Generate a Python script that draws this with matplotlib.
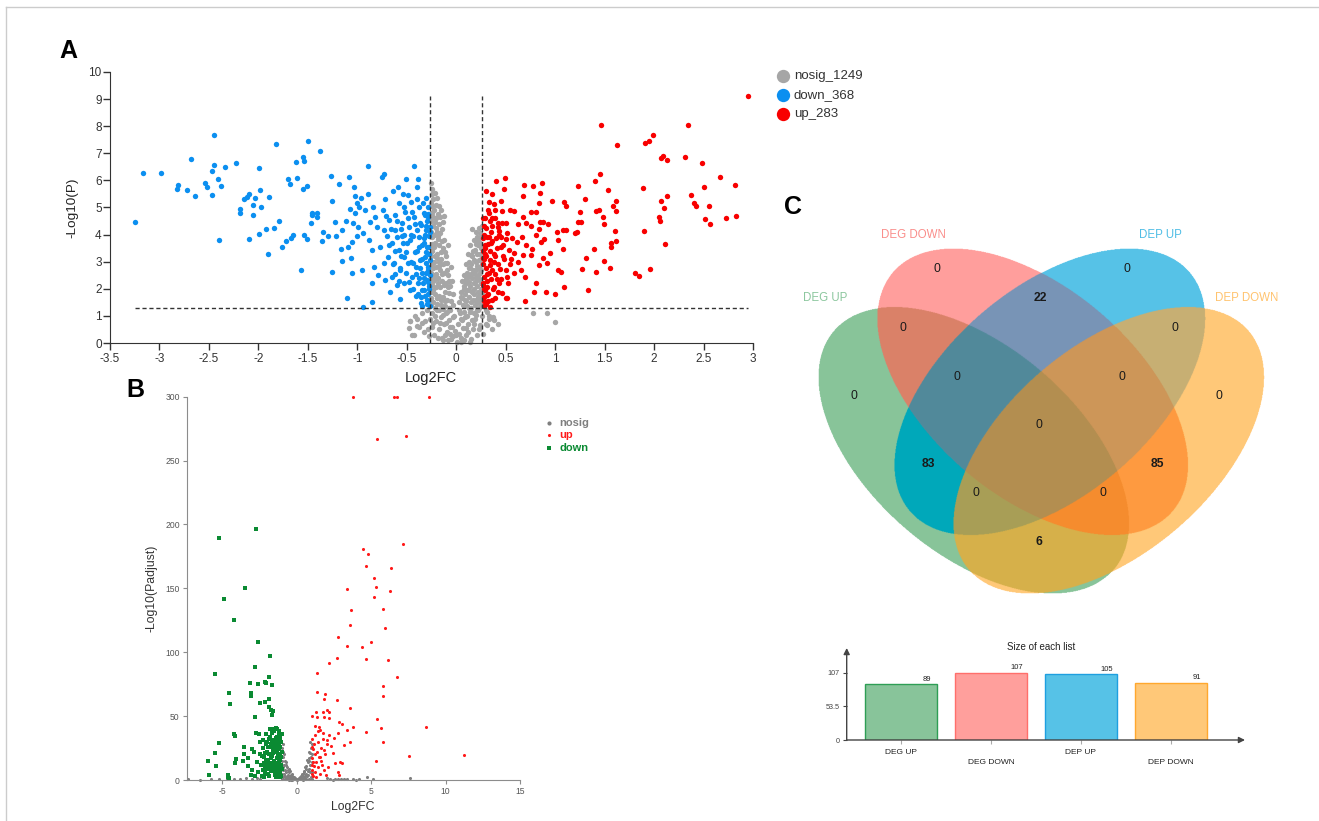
import numpy as np
import matplotlib.pyplot as plt

plt.rcParams['font.family'] = ['Liberation Sans', 'DejaVu Sans']
plt.rcParams['axes.unicode_minus'] = False

W, H = 1319, 821

# ---------------- data ----------------
# panel A : (log2FC, -log10 P)
a_down = [
    (-3.25, 4.45), (-3.17, 6.26), (-2.98, 6.26), (-2.81, 5.82), (-2.82, 5.70), (-2.72, 5.65),
    (-2.68, 6.80), (-2.64, 5.42), (-2.54, 5.89), (-2.52, 5.74), (-2.47, 5.47), (-2.47, 6.33),
    (-2.45, 7.67), (-2.45, 6.55), (-2.41, 6.06), (-2.40, 3.80), (-2.38, 5.80), (-2.34, 6.50),
    (-2.23, 6.65), (-2.19, 4.96), (-2.19, 4.80), (-2.15, 5.31), (-2.12, 5.40), (-2.09, 5.50),
    (-2.09, 3.85), (-2.05, 5.09), (-2.05, 4.71), (-2.03, 5.36), (-1.99, 6.45), (-1.99, 4.04),
    (-1.98, 5.63), (-1.97, 5.02), (-1.92, 4.22), (-1.90, 3.30), (-1.89, 5.40), (-1.84, 4.26),
    (-1.82, 7.35), (-1.79, 4.51), (-1.76, 3.56), (-1.72, 3.78), (-1.70, 6.07), (-1.68, 5.87),
    (-1.67, 3.89), (-1.65, 3.98), (-1.62, 6.69), (-1.61, 6.10), (-1.57, 2.69), (-1.55, 6.86),
    (-1.54, 6.72), (-1.54, 3.98), (-1.55, 5.68), (-1.51, 5.78), (-1.51, 3.83), (-1.50, 7.45),
    (-1.47, 4.42), (-1.46, 4.81), (-1.46, 4.71), (-1.41, 4.79), (-1.41, 4.65), (-1.38, 7.07),
    (-1.35, 4.11), (-1.36, 3.77), (-1.30, 3.95), (-1.27, 6.17), (-1.26, 5.24), (-1.26, 2.63),
    (-1.23, 4.48), (-1.22, 3.95), (-1.19, 5.85), (-1.16, 3.48), (-1.15, 4.17), (-1.15, 3.02),
    (-1.11, 4.52), (-1.10, 1.66), (-1.08, 6.12), (-1.09, 3.55), (-1.07, 4.96), (-1.06, 3.12),
    (-1.05, 3.71), (-1.05, 2.60), (-1.04, 4.44), (-1.03, 5.77), (-1.02, 5.44), (-1.02, 4.79),
    (-1.00, 5.15), (-1.00, 3.93), (-0.99, 4.29), (-0.98, 5.03), (-0.96, 5.34), (-0.95, 2.70),
    (-0.94, 1.31), (-0.94, 4.05), (-0.92, 4.91), (-0.89, 6.54), (-0.89, 5.50), (-0.88, 3.80),
    (-0.87, 4.48), (-0.85, 3.44), (-0.85, 1.53), (-0.85, 2.21), (-0.84, 5.03), (-0.83, 2.82),
    (-0.82, 4.66), (-0.80, 4.29), (-0.79, 2.52), (-0.77, 3.56), (-0.75, 6.13), (-0.74, 4.91),
    (-0.735, 6.23), (-0.735, 4.17), (-0.73, 2.94), (-0.72, 5.30), (-0.72, 2.33), (-0.70, 3.93),
    (-0.69, 3.19), (-0.68, 4.54), (-0.67, 1.90), (-0.65, 3.68), (-0.65, 2.45), (-0.64, 5.61),
    (-0.63, 2.94), (-0.62, 4.72), (-0.62, 4.17), (-0.60, 2.15), (-0.59, 5.74), (-0.58, 5.15),
    (-0.58, 3.44), (-0.57, 1.62), (-0.57, 2.70), (-0.55, 4.42), (-0.55, 3.93), (-0.54, 5.50),
    (-0.53, 3.19), (-0.53, 2.21), (-0.52, 4.85), (-0.51, 6.07), (-0.50, 3.68), (-0.49, 2.94),
    (-0.48, 4.29), (-0.47, 1.96), (-0.46, 5.21), (-0.45, 2.45), (-0.44, 3.93), (-0.43, 6.53),
    (-0.43, 4.66), (-0.42, 3.37), (-0.41, 1.72), (-0.41, 2.82), (-0.40, 5.77), (-0.40, 4.17),
    (-0.39, 6.06), (-0.39, 2.21), (-0.38, 5.03), (-0.38, 3.56), (-0.37, 3.07), (-0.37, 4.42),
    (-0.36, 1.47), (-0.35, 2.58), (-0.34, 5.15), (-0.33, 3.87), (-0.33, 1.96), (-0.32, 4.72),
    (-0.32, 3.19), (-0.31, 5.34), (-0.31, 4.17), (-0.30, 2.33), (-0.30, 3.56), (-0.30, 1.60),
    (-0.29, 2.82), (-0.29, 4.66), (-0.28, 3.93), (-0.28, 2.09), (-0.27, 3.07), (-0.27, 4.29),
    (-0.27, 1.35), (-0.30, 4.50), (-0.32, 4.00), (-0.35, 3.60), (-0.28, 3.30), (-0.31, 2.60),
    (-0.34, 2.20), (-0.29, 1.80), (-0.36, 1.70), (-0.38, 2.40), (-0.40, 3.40), (-0.42, 4.40),
    (-0.44, 2.00), (-0.46, 3.00), (-0.47, 3.80), (-0.49, 4.60), (-0.51, 2.60), (-0.53, 4.00),
    (-0.56, 3.20), (-0.58, 2.30), (-0.60, 4.50), (-0.62, 3.40), (-0.64, 2.90), (-0.66, 4.20),
    (-0.68, 3.60), (-0.71, 4.70), (-0.29, 5.00), (-0.33, 4.80), (-0.27, 2.50), (-0.30, 1.45),
    (-0.35, 1.35), (-0.39, 1.80), (-0.27, 4.10), (-0.28, 2.00), (-0.285, 4.75), (-0.305, 4.30),
    (-0.325, 3.70), (-0.285, 3.55), (-0.345, 3.10), (-0.305, 2.95), (-0.285, 2.70),
    (-0.365, 2.75), (-0.325, 2.40), (-0.285, 2.25), (-0.345, 1.95), (-0.315, 1.75),
    (-0.375, 3.90), (-0.405, 2.55), (-0.435, 2.95), (-0.455, 4.00), (-0.475, 2.25),
    (-0.505, 3.35), (-0.535, 3.70), (-0.565, 2.75), (-0.595, 3.90), (-0.615, 2.55),
    (-0.445, 4.85), (-0.395, 5.30), (-0.355, 4.35), (-0.485, 5.45), (-0.525, 5.00),
    (-0.555, 4.20), (-0.305, 3.35), (-0.285, 1.55),
]
a_up = [
    (2.946, 9.11), (1.459, 8.06), (2.346, 8.06), (1.989, 7.69), (1.948, 7.45), (1.908, 7.39),
    (1.628, 7.31), (2.073, 6.81), (2.093, 6.90), (2.133, 6.74), (2.309, 6.86), (2.481, 6.65),
    (2.669, 6.13), (2.821, 5.83), (2.508, 5.76), (2.376, 5.47), (2.130, 5.42), (2.073, 5.25),
    (2.097, 4.97), (2.406, 5.15), (2.427, 5.06), (2.555, 5.07), (2.511, 4.59), (2.568, 4.39),
    (2.723, 4.61), (2.824, 4.69), (2.049, 4.66), (2.063, 4.51), (1.884, 5.73), (1.901, 4.12),
    (2.113, 3.65), (1.955, 2.74), (1.850, 2.48), (1.810, 2.57), (1.449, 6.25), (1.405, 5.98),
    (1.530, 5.65), (1.617, 5.25), (1.620, 4.87), (1.580, 5.06), (1.416, 4.87), (1.439, 4.91),
    (1.483, 4.66), (1.493, 4.38), (1.604, 4.15), (1.560, 3.68), (1.567, 3.55), (1.611, 3.75),
    (1.496, 3.04), (1.554, 2.78), (1.412, 2.61), (1.389, 3.46), (1.301, 5.31), (1.234, 5.79),
    (1.247, 4.82), (1.234, 4.46), (1.257, 4.46), (1.200, 4.05), (1.223, 4.08), (1.308, 3.14),
    (1.274, 2.72), (1.331, 1.94), (1.092, 5.19), (1.105, 5.04), (1.078, 4.17), (1.105, 4.17),
    (1.014, 4.11), (1.024, 3.80), (1.078, 3.46), (1.031, 2.69), (1.058, 2.63), (1.092, 2.05),
    (0.998, 1.81), (0.903, 1.89), (0.967, 5.24), (0.863, 5.89), (0.839, 5.15), (0.772, 5.78),
    (0.688, 5.82), (0.671, 5.44), (0.843, 5.52), (0.809, 4.82), (0.755, 4.85), (0.674, 4.65),
    (0.620, 4.38), (0.701, 4.42), (0.843, 4.46), (0.880, 4.45), (0.923, 4.38), (0.758, 4.32),
    (0.836, 4.19), (0.806, 4.00), (0.890, 3.85), (0.860, 3.71), (0.664, 3.92), (0.708, 3.62),
    (0.765, 3.46), (0.671, 3.23), (0.752, 3.23), (0.880, 3.15), (0.917, 2.94), (0.951, 3.31),
    (0.833, 2.87), (0.657, 2.69), (0.809, 2.20), (0.698, 2.42), (0.782, 1.89), (0.694, 1.56),
    (0.512, 1.65), (0.489, 6.10), (0.401, 5.98), (0.485, 5.67), (0.297, 5.61), (0.448, 5.25),
    (0.384, 5.13), (0.320, 4.90), (0.334, 4.81), (0.543, 4.90), (0.580, 4.87), (0.465, 4.88),
    (0.357, 4.60), (0.388, 4.60), (0.425, 4.44), (0.462, 4.42), (0.506, 4.44), (0.418, 4.29),
    (0.303, 4.26), (0.432, 4.12), (0.512, 4.05), (0.566, 3.86), (0.613, 3.73), (0.404, 3.86),
    (0.327, 3.92), (0.270, 3.86), (0.350, 3.68), (0.452, 3.55), (0.529, 3.43), (0.583, 3.33),
    (0.293, 3.49), (0.384, 3.28), (0.485, 3.09), (0.546, 2.90), (0.283, 3.09), (0.344, 2.88),
    (0.445, 2.74), (0.512, 2.42), (0.411, 2.37), (0.310, 2.53), (0.270, 2.20), (0.377, 2.08),
    (0.462, 1.83), (0.310, 1.77), (0.394, 1.67), (0.276, 1.56), (0.337, 1.34), (0.499, 1.65),
    (0.28, 4.30), (0.29, 3.60), (0.30, 3.20), (0.27, 2.90), (0.31, 2.30), (0.28, 2.00),
    (0.32, 1.80), (0.30, 1.45), (0.34, 3.40), (0.36, 2.70), (0.35, 4.10), (0.38, 3.00),
    (0.37, 2.00), (0.41, 3.50), (0.43, 2.20), (0.39, 4.90), (0.33, 2.60), (0.27, 3.40),
    (0.29, 4.60), (0.36, 1.60), (0.42, 1.90), (0.47, 3.20), (0.50, 2.70), (0.45, 3.90),
    (0.55, 3.10), (0.58, 2.60), (0.62, 3.00), (0.28, 1.70), (0.31, 3.90), (0.34, 4.50),
    (0.275, 4.60), (0.285, 4.00), (0.295, 3.30), (0.275, 3.15), (0.305, 2.75), (0.285, 2.45),
    (0.275, 2.15), (0.315, 2.05), (0.325, 3.65), (0.345, 3.05), (0.355, 2.35), (0.365, 3.75),
    (0.395, 3.20), (0.395, 2.55), (0.425, 2.90), (0.435, 4.00), (0.455, 2.35), (0.475, 3.60),
    (0.505, 3.85), (0.525, 2.20), (0.295, 1.95), (0.325, 1.55), (0.285, 1.35), (0.365, 4.30),
    (0.330, 5.20), (0.360, 5.50),
]
a_nosig = [
    (-0.26, 5.90), (-0.23, 5.30), (-0.20, 5.10), (-0.25, 5.50), (-0.17, 5.05), (-0.22, 4.90),
    (-0.26, 5.15), (-0.25, 4.80), (-0.20, 4.60), (-0.17, 4.40), (-0.23, 4.30), (-0.14, 4.20),
    (-0.26, 4.50), (-0.19, 4.10), (-0.22, 4.00), (-0.12, 4.70), (-0.15, 4.90), (-0.25, 3.90),
    (-0.21, 3.70), (-0.17, 3.60), (-0.13, 3.50), (-0.24, 3.40), (-0.19, 3.30), (-0.10, 3.20),
    (-0.15, 3.10), (-0.22, 3.00), (-0.26, 3.20), (-0.12, 3.80), (-0.18, 3.85), (-0.08, 3.60),
    (-0.25, 2.90), (-0.20, 2.80), (-0.16, 2.70), (-0.12, 2.60), (-0.08, 2.50), (-0.23, 2.50),
    (-0.18, 2.40), (-0.14, 2.30), (-0.10, 2.20), (-0.06, 2.10), (-0.24, 2.15), (-0.20, 2.05),
    (-0.26, 2.60), (-0.05, 2.80), (-0.25, 1.90), (-0.21, 1.80), (-0.17, 1.75), (-0.13, 1.70),
    (-0.09, 1.60), (-0.05, 1.55), (-0.23, 1.50), (-0.19, 1.45), (-0.15, 1.40), (-0.11, 1.35),
    (-0.07, 1.30), (-0.03, 1.40), (-0.26, 1.40), (-0.21, 4.45), (-0.18, 4.75), (-0.24, 3.65),
    (-0.15, 3.35), (-0.11, 2.95), (-0.21, 3.20), (-0.07, 2.30), (-0.16, 2.05), (-0.11, 1.90),
    (-0.20, 2.55), (-0.13, 2.90), (-0.09, 2.70), (-0.17, 3.00), (-0.23, 2.30), (-0.03, 1.80),
    (-0.06, 1.20), (-0.48, 0.55), (-0.47, 0.80), (-0.45, 0.30), (-0.40, 0.90), (-0.38, 0.60),
    (-0.35, 1.10), (-0.33, 0.40), (-0.32, 0.80), (-0.30, 1.20), (-0.29, 0.50), (-0.27, 0.90),
    (-0.25, 0.60), (-0.24, 1.10), (-0.22, 0.30), (-0.20, 0.80), (-0.19, 1.20), (-0.17, 0.50),
    (-0.15, 0.95), (-0.14, 0.20), (-0.12, 0.70), (-0.10, 1.10), (-0.09, 0.40), (-0.07, 0.85),
    (-0.05, 0.15), (-0.04, 0.60), (-0.02, 1.00), (0.00, 0.30), (0.02, 0.70), (0.01, 0.05),
    (-0.01, 0.45), (0.04, 1.10), (0.05, 0.20), (0.07, 0.55), (0.09, 0.95), (0.10, 0.30),
    (0.12, 0.70), (0.14, 1.15), (0.15, 0.15), (0.17, 0.50), (0.19, 0.90), (0.21, 0.30),
    (0.22, 1.20), (0.24, 0.65), (0.26, 1.00), (0.27, 0.35), (0.30, 0.70), (0.33, 1.00),
    (0.36, 0.50), (0.38, 0.85), (0.30, 1.20), (0.42, 0.70), (0.78, 1.09), (0.92, 1.09),
    (1.00, 0.77), (0.31, 1.14), (0.33, 0.87), (0.37, 0.95), (0.31, 0.66), (-0.465, 0.80),
    (-0.425, 0.28), (-0.40, 0.64), (-0.08, 0.10), (0.08, 0.10), (-0.03, 0.25), (0.03, 0.35),
    (-0.11, 0.30), (0.12, 0.40), (-0.06, 0.60), (0.06, 0.85), (-0.16, 0.75), (0.18, 0.70),
    (-0.13, 1.05), (0.11, 1.00), (0.20, 1.05), (-0.21, 1.00), (0.16, 4.20), (0.20, 4.10),
    (0.23, 4.25), (0.25, 3.90), (0.18, 3.80), (0.22, 3.60), (0.14, 3.60), (0.26, 4.30),
    (0.19, 3.45), (0.24, 3.30), (0.12, 3.30), (0.16, 3.20), (0.20, 3.00), (0.23, 2.80),
    (0.26, 2.90), (0.10, 2.90), (0.14, 2.75), (0.18, 2.60), (0.22, 2.50), (0.08, 2.50),
    (0.25, 3.10), (0.12, 2.45), (0.06, 2.30), (0.10, 2.20), (0.14, 2.10), (0.18, 2.00),
    (0.22, 1.90), (0.25, 2.20), (0.05, 1.90), (0.09, 1.80), (0.13, 1.70), (0.17, 1.60),
    (0.21, 1.50), (0.25, 1.60), (0.03, 1.50), (0.07, 1.40), (0.11, 1.35), (0.15, 1.30),
    (0.19, 1.40), (0.23, 1.30), (0.26, 1.80), (0.21, 3.90), (0.17, 3.40), (0.13, 3.00),
    (0.20, 2.70), (0.24, 2.60), (0.16, 2.40), (0.11, 2.60), (0.08, 2.10), (0.20, 2.30),
    (0.13, 1.95), (0.18, 1.80), (0.22, 1.70), (0.06, 1.65), (0.10, 1.55), (0.24, 1.45),
    (0.03, 1.20), (0.24, 3.70), (0.15, 2.90), (-0.245, 5.70), (-0.215, 5.55), (-0.19, 5.35),
    (-0.24, 5.05), (-0.16, 4.65), (-0.235, 4.65), (-0.205, 4.25), (-0.16, 4.05), (-0.13, 4.45),
    (-0.255, 4.10), (-0.185, 3.95), (-0.225, 3.55), (-0.145, 3.75), (-0.115, 3.35),
    (-0.255, 3.55), (-0.195, 3.15), (-0.235, 2.75), (-0.175, 2.85), (-0.145, 2.55),
    (-0.095, 2.95), (-0.255, 2.35), (-0.215, 2.35), (-0.125, 2.15), (-0.085, 2.05),
    (-0.185, 2.20), (-0.235, 1.95), (-0.195, 1.65), (-0.155, 1.60), (-0.115, 1.55),
    (-0.075, 1.85), (-0.045, 2.30), (-0.255, 1.65), (-0.215, 1.30), (-0.175, 1.20),
    (-0.135, 1.25), (-0.095, 1.15), (-0.03, 0.95), (-0.23, 0.75), (-0.28, 0.25), (-0.35, 0.75),
    (-0.42, 1.00), (-0.18, 0.20), (-0.10, 0.75), (-0.06, 0.35), (0.245, 4.05), (0.225, 3.80),
    (0.195, 3.65), (0.255, 3.50), (0.215, 3.30), (0.175, 3.05), (0.145, 3.25), (0.235, 3.05),
    (0.205, 2.85), (0.165, 2.70), (0.125, 2.75), (0.255, 2.70), (0.195, 2.45), (0.145, 2.55),
    (0.095, 2.35), (0.235, 2.35), (0.175, 2.20), (0.125, 2.25), (0.075, 2.00), (0.255, 2.00),
    (0.205, 2.10), (0.155, 1.90), (0.105, 1.95), (0.045, 1.70), (0.235, 1.75), (0.195, 1.60),
    (0.145, 1.50), (0.085, 1.60), (0.255, 1.35), (0.215, 1.20), (0.175, 1.10), (0.125, 1.30),
    (0.075, 1.15), (0.045, 0.90), (0.16, 0.85), (0.23, 0.50), (0.10, 0.55), (0.14, 0.05),
    (-0.13, 0.10), (0.05, 0.05),
]
a_legend = ["nosig_1249", "down_368", "up_283"]
fc_cut, p_cut = 0.263, 1.3

# panel B : (log2FC, -log10 Padjust)
b_up = [
    (3.81, 300), (6.50, 300), (6.72, 300), (8.89, 300), (5.40, 266.6), (7.37, 269), (4.46, 180.5),
    (4.77, 176.6), (4.68, 167.2), (7.12, 184.5), (6.32, 165.7), (5.20, 157.8), (5.33, 151),
    (6.23, 147.7), (5.20, 143.2), (3.34, 149.2), (3.63, 133), (5.80, 134), (3.58, 121.3),
    (5.91, 118.7), (2.76, 111.7), (3.40, 104.6), (4.41, 103.8), (4.97, 108), (2.71, 95.5),
    (2.13, 91.3), (4.68, 94.4), (6.12, 93.7), (1.39, 83.7), (6.72, 80.4), (5.76, 73.8),
    (5.82, 65.7), (1.39, 68.6), (1.90, 67), (1.86, 63.7), (2.71, 62.9), (3.56, 56.1), (2.02, 54.8),
    (2.17, 53.2), (1.32, 53), (1.79, 53.5), (1.05, 50.1), (2.13, 48.8), (1.34, 49), (1.84, 49.6),
    (5.38, 47.7), (2.84, 45.7), (3.07, 43.6), (3.81, 41.7), (3.40, 39.4), (8.69, 41.7),
    (5.67, 41), (4.66, 37.3), (2.78, 37), (3.58, 30), (5.80, 30), (3.18, 27.7), (2.93, 14.3),
    (3.02, 13.6), (5.29, 15.1), (7.57, 18.8), (11.27, 19.8), (2.76, 6), (2.82, 3.9), (2.31, 26.6),
    (2.53, 32.6), (2.17, 35.2), (1.57, 39.1), (1.46, 41.7), (1.79, 36.5), (2.02, 31.3),
    (2.42, 20.9), (1.84, 23.5), (1.57, 18.3), (2.58, 13), (1.05, 32), (1.15, 28), (1.10, 24),
    (1.20, 20), (1.05, 17), (1.30, 14), (1.15, 11), (1.00, 8), (1.25, 6), (1.10, 3), (1.40, 30),
    (1.35, 22), (1.50, 18), (1.45, 10), (1.60, 15), (1.30, 2), (1.55, 5), (1.70, 12), (1.65, 25),
    (1.80, 8), (1.20, 35), (1.00, 26), (1.90, 20), (1.95, 4), (1.10, 14), (1.05, 5), (1.40, 38),
    (1.75, 32), (1.25, 42), (2.10, 10), (2.00, 28), (1.00, 12),
]
b_down = [
    (-2.71, 196.2), (-5.20, 189.1), (-4.91, 141.9), (-3.47, 150), (-4.21, 125.2), (-2.64, 108),
    (-1.79, 97.3), (-5.53, 83.2), (-2.84, 88.4), (-1.90, 80.4), (-3.14, 76.2), (-2.64, 75.1),
    (-2.17, 77), (-2.05, 75.7), (-1.68, 74.4), (-4.57, 67.8), (-3.05, 68.4), (-3.11, 65.7),
    (-1.90, 63.1), (-4.46, 59.2), (-2.46, 60.5), (-2.17, 61), (-1.86, 56.9), (-1.75, 54.8),
    (-1.61, 54), (-2.84, 49.6), (-1.66, 51.1), (-4.19, 36), (-4.14, 34.7), (-2.73, 37),
    (-2.51, 36), (-5.26, 29.2), (-3.54, 25.8), (-2.98, 24), (-5.49, 20.9), (-3.52, 20.3),
    (-4.12, 16.4), (-3.61, 15.1), (-4.14, 13), (-3.25, 17.5), (-5.44, 11), (-5.98, 14.9),
    (-5.91, 3.9), (-4.64, 3.9), (-4.61, 2.1), (-4.57, 1.6), (-2.40, 12), (-2.30, 8), (-2.20, 18),
    (-2.10, 28), (-2.05, 5), (-2.00, 22), (-1.95, 14), (-1.90, 32), (-1.85, 3), (-1.80, 26),
    (-1.75, 10), (-1.70, 37), (-1.65, 19), (-1.60, 7), (-1.55, 30), (-1.50, 15), (-1.45, 24),
    (-1.40, 2), (-1.35, 34), (-1.30, 11), (-1.25, 20), (-1.20, 27), (-1.15, 6), (-1.10, 16),
    (-1.05, 30), (-1.00, 9), (-1.02, 22), (-1.08, 3), (-1.18, 35), (-1.28, 13), (-1.38, 25),
    (-1.48, 4), (-1.58, 21), (-1.68, 13), (-1.78, 40), (-1.88, 20), (-1.98, 9), (-2.08, 36),
    (-2.18, 2), (-2.28, 25), (-2.60, 6), (-2.70, 14), (-2.80, 3), (-2.90, 22), (-3.00, 8),
    (-3.10, 4), (-3.30, 11), (-2.50, 30), (-2.45, 20), (-2.35, 3), (-1.62, 40), (-1.52, 38),
    (-1.42, 33), (-1.32, 28), (-1.22, 24), (-1.12, 19), (-1.06, 12), (-1.14, 26), (-1.24, 9),
    (-1.34, 17), (-1.44, 12), (-1.54, 27), (-1.64, 31), (-1.74, 17), (-1.84, 11), (-1.94, 26),
    (-2.04, 16), (-2.14, 11), (-2.24, 31), (-1.01, 36), (-1.11, 33), (-1.21, 38), (-1.31, 40),
    (-1.41, 41), (-1.72, 7), (-1.92, 5), (-2.12, 21), (-1.36, 5), (-1.16, 2), (-1.26, 30),
    (-1.03, 18), (-1.13, 8), (-1.23, 14), (-1.33, 22), (-1.43, 7), (-1.53, 10), (-1.63, 24),
    (-1.73, 28), (-1.83, 34), (-1.93, 16), (-2.03, 30), (-2.13, 6), (-2.23, 13), (-2.33, 19),
]
b_nosig = [
    (-7.3, 0.5), (-6.5, 0.3), (-5.8, 0.4), (-5.2, 0.6), (-4.7, 0.5), (-4.2, 1.0), (-3.8, 0.5),
    (-3.4, 1.3), (-3.0, 0.6), (-2.7, 1.5), (-2.5, 0.4), (2.2, 0.6), (2.6, 0.8), (3.0, 0.5),
    (3.4, 0.4), (3.8, 0.6), (4.2, 0.5), (4.7, 2.0), (5.1, 0.4), (7.6, 1.5), (2.0, 1.2), (2.4, 0.3),
    (2.8, 1.0), (3.2, 0.9), (4.0, 0.3), (-1.0, 25), (-0.95, 22), (-0.9, 18), (-0.85, 20),
    (-0.8, 15), (-0.75, 12), (-0.7, 14), (-0.65, 10), (-0.6, 8), (-0.55, 9), (-0.5, 6), (-0.45, 7),
    (-0.4, 4), (-0.35, 5), (-0.3, 3), (-0.25, 2), (-0.2, 2.5), (-0.15, 1), (-0.1, 1.5),
    (-0.05, 0.5), (0.0, 0.3), (-0.98, 15), (-0.92, 10), (-0.88, 5), (-0.82, 8), (-0.78, 3),
    (-0.72, 6), (-0.68, 2), (-0.62, 4), (-0.58, 1), (-0.52, 3), (-0.48, 1.5), (-0.42, 2),
    (-0.38, 0.8), (-0.32, 1.2), (-0.28, 0.6), (-1.0, 12), (-1.0, 5), (-0.95, 28), (-0.9, 2),
    (-0.6, 0.5), (-0.8, 1), (-1.0, 1), (-0.3, 0.2), (-0.2, 0.5), (-0.4, 0.3), (-0.5, 0.2),
    (-0.7, 0.6), (-0.85, 12), (-0.96, 8), (1.0, 28), (0.95, 25), (0.9, 21), (0.85, 22), (0.8, 17),
    (0.75, 14), (0.7, 16), (0.65, 11), (0.6, 9), (0.55, 10), (0.5, 7), (0.45, 6), (0.4, 4.5),
    (0.35, 5), (0.3, 3), (0.25, 2.5), (0.2, 2), (0.15, 1.2), (0.1, 1), (0.05, 0.5), (0.98, 18),
    (0.92, 12), (0.88, 6), (0.82, 9), (0.78, 4), (0.72, 7), (0.68, 3), (0.62, 5), (0.58, 1.5),
    (0.52, 3), (0.48, 1), (0.42, 2), (0.38, 1), (0.32, 1.2), (0.28, 0.6), (1.0, 14), (1.0, 6),
    (0.95, 2), (0.8, 1), (1.0, 1), (0.6, 0.4), (0.4, 0.3), (0.9, 30), (1.0, 20), (0.85, 15),
]
b_legend = ["nosig", "up", "down"]

# panel C : four lists, region counts keyed by membership (DEG UP, DEG DOWN, DEP UP, DEP DOWN)
venn_names = ["DEG UP", "DEG DOWN", "DEP UP", "DEP DOWN"]
venn_counts = {
    "1000": 0, "0100": 0, "0010": 0, "0001": 0,
    "1100": 0, "0110": 22, "0011": 0, "1010": 83, "0101": 85, "1001": 6,
    "1110": 0, "0111": 0, "1011": 0, "1101": 0, "1111": 0,
}
list_sizes = [sum(n for k, n in venn_counts.items() if k[i] == "1") for i in range(4)]

# ---------------- styles ----------------
c_grey, c_blue, c_red = "#a6a6a6", "#0b8ff0", "#f80000"
venn_fill = ["#88c49a", "#ff9f9c", "#56c2e7", "#ffc878"]
venn_text = ["#8cc79e", "#fa8e8b", "#4fbde5", "#ffc36e"]
bar_edge = ["#2e9e55", "#ff6f6b", "#1e9fe0", "#ffa82e"]
region_col = {
    "1000": "#88c49a", "0100": "#ff9f9c", "0010": "#56c2e7", "0001": "#ffc878",
    "1100": "#da8169", "0110": "#7894b6", "0011": "#c7af74", "1010": "#00a8ba",
    "0101": "#fe9b40", "1001": "#d6b04a", "1110": "#528a9b", "0111": "#cd9658",
    "1011": "#a89f56", "1101": "#f58c2e", "1111": "#b48e50",
}
# ellipses in figure pixels: cx, cy, semi-major, semi-minor, angle (y down)
ellipses = [(973.7, 450.3, 184, 104, 40.5), (1032.7, 391.7, 184, 104, 40.5),
            (1049.9, 391.7, 184, 104, -40.5), (1108.9, 450.3, 184, 104, -40.5)]
region_xy = {
    "1000": (854.3, 396), "0100": (936.7, 269.3), "0010": (1126.7, 269.3), "0001": (1219.3, 396),
    "1100": (902.7, 327.7), "0110": (1040.7, 298.3), "0011": (1175, 327.7),
    "1010": (928.7, 464), "0101": (1157.3, 464), "1001": (1039.3, 541.7),
    "1110": (956.7, 376.7), "0111": (1121.7, 376.7), "1011": (976, 493.3),
    "1101": (1102.7, 493.3), "1111": (1039.3, 425),
}
name_xy = [(825, 298), (913.3, 235), (1160, 235), (1246.7, 298.3)]


def px_axes(fig, x0, y0, x1, y1):
    return fig.add_axes([x0 / W, 1 - y1 / H, (x1 - x0) / W, (y1 - y0) / H])


fig = plt.figure(figsize=(W / 100, H / 100), dpi=100)

# ---------------- A ----------------
ax = px_axes(fig, 110, 72, 753, 343)
for pts, col in ((a_nosig, c_grey), (a_down, c_blue), (a_up, c_red)):
    p = np.array(pts)
    ax.scatter(p[:, 0], p[:, 1], s=15, c=col, lw=0, clip_on=False, zorder=2)
dash = dict(color="#333333", lw=1, ls=(0, (3, 2)), zorder=3)
ax.plot([-fc_cut, -fc_cut], [0, 9.1], **dash)
ax.plot([fc_cut, fc_cut], [0, 9.1], **dash)
ax.plot([-3.25, 2.95], [p_cut, p_cut], **dash)
ax.set_xlim(-3.5, 3)
ax.set_ylim(0, 10)
xt = np.arange(-3.5, 3.01, 0.5)
ax.set_xticks(xt)
ax.set_xticklabels([f"{v:g}" for v in xt])
ax.set_yticks(range(0, 11))
for s in ("top", "right"):
    ax.spines[s].set_visible(False)
for s in ("left", "bottom"):
    ax.spines[s].set_color("#333333")
ax.tick_params(direction="out", length=5, width=1, colors="#333333", labelsize=8.5, pad=2)
ax.tick_params(axis="y", pad=1)
ax.patch.set_visible(False)

# ---------------- B ----------------
bx = px_axes(fig, 186.7, 396.7, 520, 780)
p = np.array(b_nosig)
bx.scatter(p[:, 0], p[:, 1], s=5, c="#7f7f7f", lw=0, clip_on=False, zorder=2)
p = np.array(b_down)
bx.scatter(p[:, 0], p[:, 1], s=9, c="#0a8a32", marker="s", lw=0, clip_on=False, zorder=3)
p = np.array(b_up)
bx.scatter(p[:, 0], p[:, 1], s=5, c="#ff1a1a", lw=0, clip_on=False, zorder=3)
bx.set_xlim(-7.4, 15)
bx.set_ylim(0, 300)
bx.set_xticks([-5, 0, 5, 10, 15])
bx.set_yticks(range(0, 301, 50))
for s in ("top", "right"):
    bx.spines[s].set_visible(False)
for s in ("left", "bottom"):
    bx.spines[s].set_color("#8c8c8c")
bx.tick_params(direction="out", length=3, width=0.8, colors="#8c8c8c", labelcolor="#555555",
               labelsize=6.2, pad=2)
bx.patch.set_visible(False)

# ---------------- bar (size of each list) ----------------
cx = px_axes(fig, 846.7, 648, 1245, 740)
xs = np.arange(len(list_sizes))
cx.bar(xs, list_sizes, width=0.79, color=venn_fill, edgecolor=bar_edge, lw=1, zorder=2)
for i, v in enumerate(list_sizes):
    cx.annotate(str(v), (i + 0.29, v), xytext=(0, 1), textcoords="offset points",
                ha="center", va="bottom", fontsize=5.5, color="#222222")
for i, name in enumerate(venn_names):
    cx.text(i, -0.138 if i % 2 == 0 else -0.242, name, transform=cx.get_xaxis_transform(),
            ha="center", va="center", fontsize=6, color="#222222")
top = max(list_sizes)
cx.set_xlim(-0.603, 3.822)
cx.set_ylim(0, 146.3)
cx.set_yticks([0, top / 2, top])
cx.set_yticklabels(["0", f"{top / 2:g}", f"{top}"])
cx.set_xticks(xs)
cx.set_xticklabels([])
for s in cx.spines.values():
    s.set_visible(False)
cx.tick_params(axis="y", length=3, width=0.8, colors="#444444", labelsize=5.2, pad=2)
cx.tick_params(axis="x", length=3, width=0.8, colors="#aaaaaa")
arrow = dict(arrowstyle="-|>", color="#444444", lw=1, mutation_scale=9, shrinkA=0, shrinkB=0)
cx.annotate("", xy=(1, 0), xytext=(0, 0), xycoords="axes fraction", arrowprops=arrow)
cx.annotate("", xy=(0, 1), xytext=(0, 0), xycoords="axes fraction", arrowprops=arrow)
cx.patch.set_visible(False)

# ---------------- overlay in figure pixels ----------------
ov = fig.add_axes([0, 0, 1, 1])
ov.axis("off")

# venn regions, rendered by membership
x0, x1, y0, y1 = 800, 1290, 190, 620
gx = np.linspace(x0, x1, (x1 - x0) * 2, endpoint=False) + 0.25
gy = np.linspace(y0, y1, (y1 - y0) * 2, endpoint=False) + 0.25
XX, YY = np.meshgrid(gx, gy)
inside = []
for ecx, ecy, ea, eb, ang in ellipses:
    t = np.deg2rad(ang)
    dx, dy = XX - ecx, YY - ecy
    u = dx * np.cos(t) + dy * np.sin(t)
    v = -dx * np.sin(t) + dy * np.cos(t)
    inside.append((u / ea) ** 2 + (v / eb) ** 2 <= 1)
img = np.zeros(XX.shape + (4,))
img[..., :3] = 1.0
for code, col in region_col.items():
    m = np.ones(XX.shape, bool)
    for i, ch in enumerate(code):
        m &= inside[i] if ch == "1" else ~inside[i]
    h = col.lstrip("#")
    img[m] = [int(h[k:k + 2], 16) / 255 for k in (0, 2, 4)] + [1.0]
ov.imshow(img, extent=(x0, x1, y1, y0), aspect="auto", interpolation="antialiased",
          interpolation_stage="rgba", zorder=1)
ov.set_xlim(0, W)
ov.set_ylim(H, 0)
for code, n in venn_counts.items():
    ox, oy = region_xy[code]
    ov.text(ox, oy, str(n), ha="center", va="center", fontsize=8.7, color="#1a1a1a",
            fontweight="bold" if n else "normal", zorder=3)
for (ox, oy), name, col in zip(name_xy, venn_names, venn_text):
    ov.text(ox, oy, name, ha="center", va="center", fontsize=8.3, color=col, zorder=3)

# legends
for (y, lab, col) in zip((75.7, 94.7, 113.7), a_legend, (c_grey, c_blue, c_red)):
    ov.scatter([783], [y], s=92, c=col, lw=0, zorder=3)
    ov.text(794, y, lab, ha="left", va="center", fontsize=9.5, color="#333333", zorder=3)
for (y, lab, col, mk, sz) in zip((423, 435.5, 448), b_legend, ("#7f7f7f", "#ff1a1a", "#0a8a32"),
                                 ("o", "o", "s"), (9, 5, 8)):
    ov.scatter([549], [y], s=sz, c=col, marker=mk, lw=0, zorder=3)
    ov.text(559.3, y, lab, ha="left", va="center", fontsize=8, color=col,
            fontweight="bold", zorder=3)

# axis titles
ov.text(431, 378, "Log2FC", ha="center", va="center", fontsize=10.5, color="#222222")
ov.text(72.7, 208, "-Log10(P)", ha="center", va="center", rotation=90, fontsize=9.7,
        color="#222222")
ov.text(352.7, 806.7, "Log2FC", ha="center", va="center", fontsize=8.8, color="#333333")
ov.text(151.7, 588, "-Log10(Padjust)", ha="center", va="center", rotation=90, fontsize=8.8,
        color="#333333")
ov.text(1041, 647, "Size of each list", ha="center", va="center", fontsize=7, color="#222222")

# panel letters
for lab, lx, ly in (("A", 68.3, 51), ("B", 135, 390), ("C", 793, 207)):
    ov.text(lx, ly, lab, ha="center", va="center", fontsize=18, fontweight="bold", color="black")

# thin frame of the figure
ov.plot([6, W], [7, 7], color="#cccccc", lw=1)
ov.plot([6, 6], [7, H], color="#cccccc", lw=1)

fig.savefig("out.png", dpi=100)
